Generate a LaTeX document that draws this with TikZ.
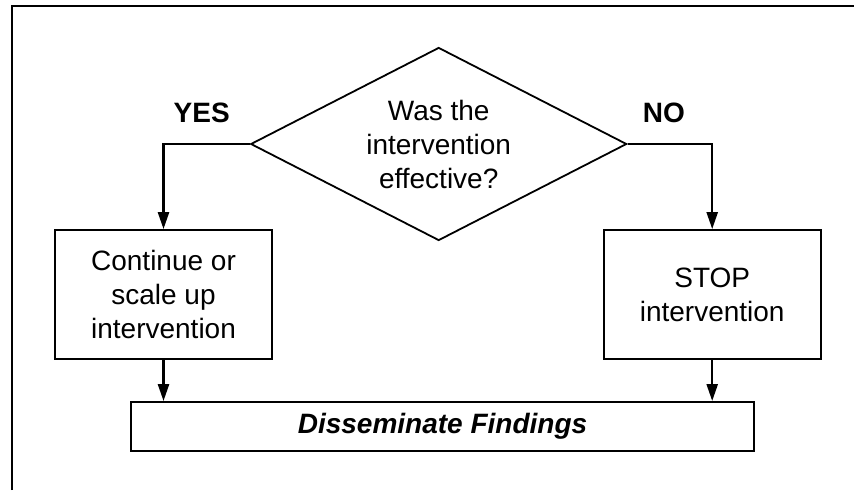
\documentclass[tikz,border=0pt]{standalone}
\usepackage{fontspec}
\setmainfont{Liberation Sans}
\usetikzlibrary{shapes.geometric,arrows.meta}

\begin{document}
\begin{tikzpicture}[
    x=1pt,
    y=-1pt,
    frameline/.style={draw=black, line width=2.4pt},
    choice/.style={diamond, draw=black, line width=1.8pt, inner sep=0pt,
      minimum width=376pt, minimum height=193pt, aspect=1.95,
      align=center, font=\fontsize{28}{34}\selectfont},
    actionbox/.style={rectangle, draw=black, line width=1.8pt,
      minimum width=217pt, minimum height=129pt,
      align=center, font=\fontsize{28}{34}\selectfont},
    answer/.style={font=\fontsize{28}{34}\selectfont\bfseries},
    flow/.style={draw=black, line width=2.4pt, -{Triangle[length=17pt,width=11pt]}}
  ]
    \useasboundingbox (0,0) rectangle (854,490);
    \draw[frameline] (12,490) -- (12,6) -- (854,6);

    \node[choice] (decide) at (438.7,144) {Was the\\intervention\\effective?};
    \node[answer] (yes) at (201.7,113) {YES};
    \node[answer] (no) at (663.8,113) {NO};

    \node[actionbox] (scaleup) at (163.5,294.5) {Continue or\\scale up\\intervention};
    \node[actionbox] (stop) at (712.2,294.5) {STOP\\intervention};

    \node[rectangle, draw=black, line width=1.8pt, minimum width=623pt,
      minimum height=48.7pt, font=\fontsize{28}{34}\selectfont\bfseries\itshape]
      (findings) at (442.5,426.3) {Disseminate Findings};

    \draw[flow] (decide.west) -| (scaleup.north);
    \draw[flow] (decide.east) -| (stop.north);
    \foreach \src in {scaleup,stop} {
      \draw[flow] (\src.south) -- (\src.south |- findings.north);
    }
  \end{tikzpicture}
\end{document}
